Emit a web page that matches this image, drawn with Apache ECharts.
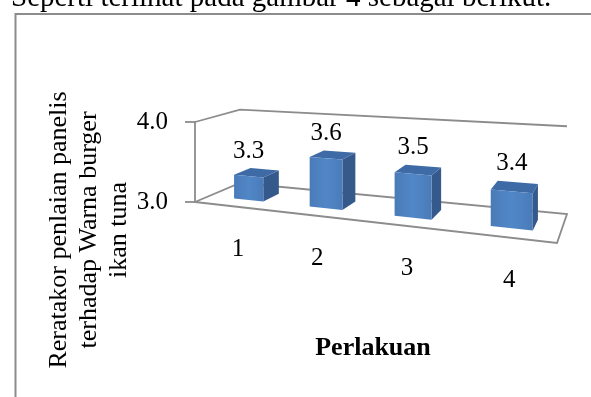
<!DOCTYPE html>
<html>
<head>
<meta charset="utf-8">
<script src="https://cdn.jsdelivr.net/npm/echarts@6/dist/echarts.min.js"></script>
<style>
  html, body { margin: 0; padding: 0; background: #fff; }
  #chart { width: 591px; height: 397px; }
</style>
</head>
<body>
<div id="chart"></div>
<script>
// ---- data ----
const categories = ['1', '2', '3', '4'];
const scores = [3.3, 3.6, 3.5, 3.4];
const valueTicks = [3.0, 4.0];
const yTitleLines = ['Reratakor penlaian panelis', 'terhadap Warna burger', 'ikan tuna'];
const xTitle = 'Perlakuan';
const leadText = 'Seperti terlihat pada gambar 4 sebagai berikut.';

// ---- layout / style ----
const FONT = "'Liberation Serif', 'Times New Roman', serif";
const LINE = '#8c8c8c';
// floor of the 3D box on screen (front-left comes from the grid corner)
const FLOOR_FR = [557, 243];
const FLOOR_BR = [567, 214];
const FLOOR_BL = [240, 183];
const DEPTH_POW = 0.8;      // how strongly heights shrink with distance
const BAR_FRACTION = 0.4;   // bar width as part of a category band
const BAR_SHIFT = 0.0125;   // small offset of categories on the floor
const BAR_T0 = 0.3, BAR_T1 = 0.68; // bar depth span on the floor
const FRONT_FILL = {
  type: 'linear', x: 0, y: 0, x2: 1, y2: 0,
  colorStops: [
    { offset: 0, color: '#4a7bb9' },
    { offset: 0.5, color: '#5187c7' },
    { offset: 1, color: '#4a7bb9' }
  ]
};
const TOP_FILL = '#3e6ba6';
const SIDE_FILL = '#35598a';

// projective map of the unit square (s along categories, t into depth) onto the floor
function makeFloorMap(p0, p1, p2, p3) {
  const dx1 = p1[0] - p2[0], dx2 = p3[0] - p2[0], dx3 = p0[0] - p1[0] + p2[0] - p3[0];
  const dy1 = p1[1] - p2[1], dy2 = p3[1] - p2[1], dy3 = p0[1] - p1[1] + p2[1] - p3[1];
  const den = dx1 * dy2 - dx2 * dy1;
  const g = (dx3 * dy2 - dx2 * dy3) / den;
  const h = (dx1 * dy3 - dx3 * dy1) / den;
  const a = p1[0] - p0[0] + g * p1[0], b = p3[0] - p0[0] + h * p3[0], c = p0[0];
  const d = p1[1] - p0[1] + g * p1[1], e = p3[1] - p0[1] + h * p3[1], f = p0[1];
  return function (s, t) {
    const w = g * s + h * t + 1;
    return [(a * s + b * t + c) / w, (d * s + e * t + f) / w, w];
  };
}

// projector: (s, t, v) -> screen, v = share of the value axis height
function makeProjector(cs) {
  const floor = makeFloorMap([cs.x, cs.y + cs.height], FLOOR_FR, FLOOR_BR, FLOOR_BL);
  const K = cs.height;
  return function (s, t, v) {
    const p = floor(s, t);
    return [p[0], p[1] - v * K / Math.pow(p[2], DEPTH_POW)];
  };
}

function lineEl(points) {
  return {
    type: 'polyline',
    shape: { points: points },
    style: { stroke: LINE, lineWidth: 1.8, fill: null, lineJoin: 'miter' }
  };
}

// walls and floor outline
function renderBox(params, api) {
  const cs = params.coordSys;
  const P = makeProjector(cs);
  const base = api.coord([0, valueTicks[0]])[1];
  const vTop = (base - api.coord([0, api.value(1)])[1]) / cs.height;
  return {
    type: 'group',
    children: [
      lineEl([P(0, 0, vTop), P(0, 1, vTop), P(1, 1, vTop)]),
      lineEl([P(0, 0, 0), P(0, 1, 0), P(1, 1, 0), P(1, 0, 0), P(0, 0, 0)])
    ]
  };
}

// one 3D column with its value label and category label
function renderBar(params, api) {
  const cs = params.coordSys;
  const P = makeProjector(cs);
  const idx = api.value(0);
  const val = api.value(1);
  const top = api.coord([idx, val]);
  const base = api.coord([idx, valueTicks[0]]);
  const band = api.size([1, 0])[0];
  const sC = (top[0] - cs.x) / cs.width + BAR_SHIFT;
  const half = BAR_FRACTION / 2 * band / cs.width;
  const v = (base[1] - top[1]) / cs.height;
  const s0 = sC - half, s1 = sC + half;

  const FBL = P(s0, BAR_T0, 0), FBR = P(s1, BAR_T0, 0);
  const FTL = P(s0, BAR_T0, v), FTR = P(s1, BAR_T0, v);
  const BTL = P(s0, BAR_T1, v), BTR = P(s1, BAR_T1, v);
  const BBR = P(s1, BAR_T1, 0);
  const foot = P(sC, 0, 0);

  return {
    type: 'group',
    children: [
      { type: 'polygon', shape: { points: [FBR, BBR, BTR, FTR] }, style: { fill: SIDE_FILL } },
      { type: 'polygon', shape: { points: [FTL, FTR, BTR, BTL] }, style: { fill: TOP_FILL } },
      { type: 'polygon', shape: { points: [FBL, FBR, FTR, FTL] }, style: { fill: FRONT_FILL } },
      {
        type: 'text',
        x: (FTL[0] + FTR[0]) / 2,
        y: Math.min(BTL[1], BTR[1]) - 17,
        style: {
          text: val.toFixed(1), font: '25px ' + FONT, fill: '#000',
          align: 'center', verticalAlign: 'middle'
        }
      },
      {
        type: 'text',
        x: foot[0] + 3,
        y: foot[1] + 43,
        style: {
          text: categories[idx], font: '25px ' + FONT, fill: '#000',
          align: 'center', verticalAlign: 'middle'
        }
      }
    ]
  };
}

const chart = echarts.init(document.getElementById('chart'), null, { renderer: 'canvas' });
chart.setOption({
  animation: false,
  backgroundColor: '#fff',
  grid: { left: 195, top: 122, width: 362, height: 80, outerBoundsMode: 'none' },
  xAxis: { type: 'category', data: categories, show: false },
  yAxis: {
    type: 'value',
    min: valueTicks[0],
    max: valueTicks[valueTicks.length - 1],
    interval: 1,
    axisLine: { show: true, lineStyle: { color: LINE, width: 1.8 } },
    axisTick: { show: true, length: 10, lineStyle: { color: LINE, width: 1.8 } },
    axisLabel: {
      formatter: function (v) { return v.toFixed(1); },
      fontFamily: FONT, fontSize: 25, color: '#000', margin: 27,
      padding: [10, 0, 0, 0]
    },
    splitLine: { show: false }
  },
  series: [
    { type: 'custom', renderItem: renderBox, data: [[0, valueTicks[1]]], z: 1, silent: true },
    { type: 'custom', renderItem: renderBar, data: scores.map(function (s, i) { return [i, s]; }), z: 2, silent: true }
  ],
  graphic: [
    {
      type: 'rect', silent: true,
      shape: { x: 15.5, y: 14, width: 700, height: 500 },
      style: { fill: 'none', stroke: LINE, lineWidth: 2 }
    },
    {
      type: 'text', silent: true, x: 11, y: -2,
      style: { text: leadText, font: '29px ' + FONT, fill: '#000', align: 'left', verticalAlign: 'middle' }
    },
    {
      type: 'text', silent: true, x: 89, y: 230, rotation: Math.PI / 2,
      style: {
        text: yTitleLines.join('\n'), font: '26px ' + FONT, fill: '#000',
        align: 'center', verticalAlign: 'middle', lineHeight: 30
      }
    },
    {
      type: 'text', silent: true, x: 373, y: 348,
      style: { text: xTitle, font: 'bold 26px ' + FONT, fill: '#000', align: 'center', verticalAlign: 'middle' }
    }
  ]
});
</script>
</body>
</html>
